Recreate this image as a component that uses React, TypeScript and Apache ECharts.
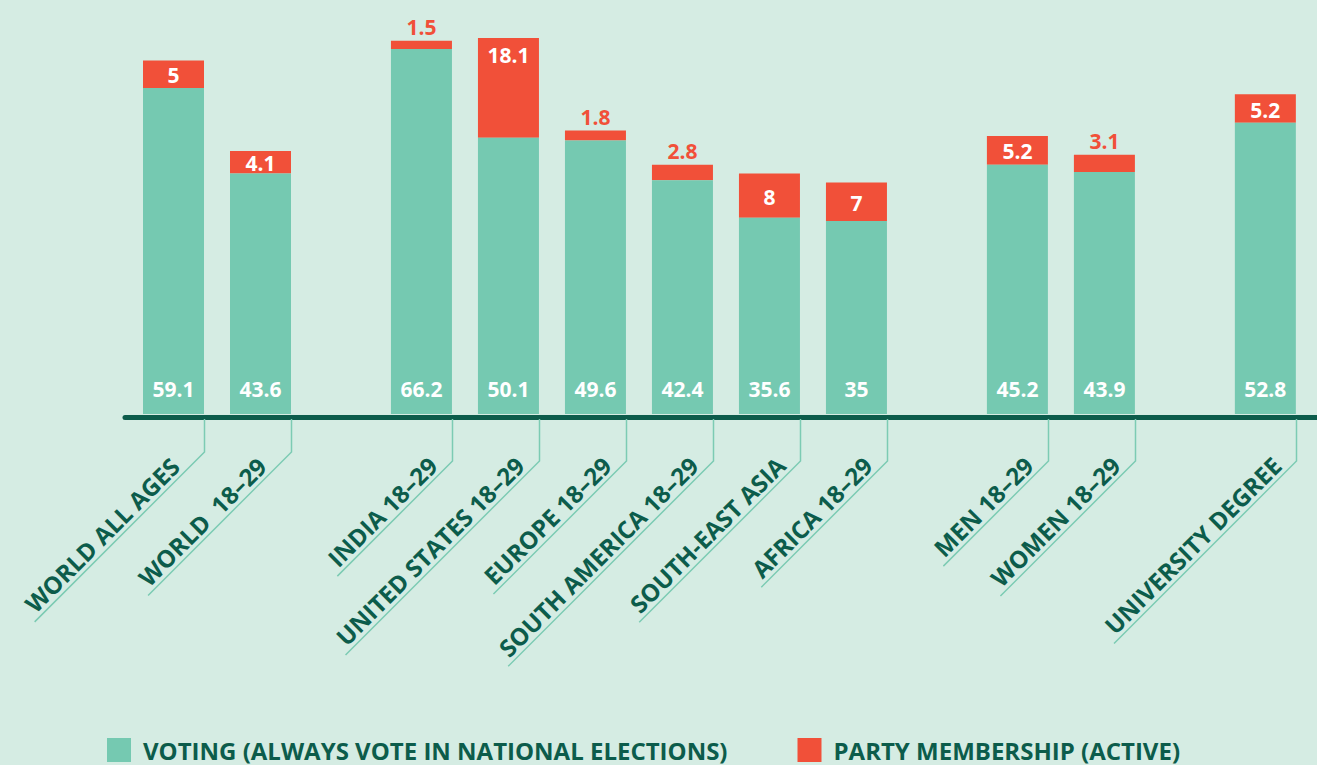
import React, { useEffect, useRef } from "react";
import * as echarts from "echarts";

const categories = [
  "WORLD ALL AGES",
  "WORLD\u00a0 18–29",
  "INDIA 18–29",
  "UNITED STATES 18–29",
  "EUROPE 18–29",
  "SOUTH AMERICA 18–29",
  "SOUTH-EAST ASIA",
  "AFRICA 18–29",
  "MEN 18–29",
  "WOMEN 18–29",
  "UNIVERSITY DEGREE",
];
// group index of each category (gaps are drawn between groups)
const groups = [0, 0, 1, 1, 1, 1, 1, 1, 2, 2, 3];
const voting = [59.1, 43.6, 66.2, 50.1, 49.6, 42.4, 35.6, 35, 45.2, 43.9, 52.8];
const party = [5, 4.1, 1.5, 18.1, 1.8, 2.8, 8, 7, 5.2, 3.1, 5.2];

const SERIES_VOTING = "VOTING (ALWAYS VOTE IN NATIONAL ELECTIONS)";
const SERIES_PARTY = "PARTY MEMBERSHIP (ACTIVE)";

const BG = "#d5ece3";
const GREEN = "#75c9b1";
const RED = "#f15039";
const DARK = "#0c5c4b";
const LEADER = "#7ccbb3";
const FONT = "Open Sans";
const GROUP_GAP = 0.85;
const BAR_W = 61;
// y of the leader line's bend, and label inset along the diagonal, per group
const BEND_Y = [452, 461, 461, 461];
const LABEL_INSET = [28, 14, 14, 14];

const xPos = categories.map((_, i) => i + groups[i] * GROUP_GAP);

let measureCtx: CanvasRenderingContext2D | null = null;
function measure(text: string, font: string) {
  if (!measureCtx) measureCtx = document.createElement("canvas").getContext("2d");
  measureCtx!.font = font;
  return measureCtx!.measureText(text).width;
}

export default function App() {
  const ref = useRef<HTMLDivElement>(null);
  useEffect(() => {
    const chart = echarts.init(ref.current!, undefined, { renderer: "svg" });
    const labelFont = `bold 24px "${FONT}"`;
    const valueFont = `bold 21px "${FONT}"`;
    const S = Math.SQRT1_2;
    chart.setOption({
      animation: false,
      backgroundColor: BG,
      textStyle: { fontFamily: FONT },
      grid: { left: 125, right: 0, top: 28, bottom: 351, containLabel: false },
      xAxis: {
        type: "value",
        min: -0.5575,
        max: 13.1437,
        offset: 3,
        axisLine: { show: true, onZero: false, lineStyle: { color: DARK, width: 5 } },
        axisTick: { show: false },
        axisLabel: { show: false },
        splitLine: { show: false },
      },
      yAxis: { type: "value", min: 0, max: 70, show: false, splitLine: { show: false } },
      legend: {
        left: 107,
        top: 738,
        padding: 0,
        itemWidth: 24,
        itemHeight: 24,
        itemGap: 70,
        icon: "rect",
        selectedMode: false,
        data: [SERIES_VOTING, SERIES_PARTY],
        textStyle: {
          fontFamily: FONT,
          fontWeight: "bold",
          fontSize: 24,
          color: DARK,
          padding: [0, 0, 0, 7],
        },
      },
      series: [
        {
          name: SERIES_VOTING,
          type: "bar",
          barWidth: BAR_W,
          itemStyle: { color: GREEN },
          data: voting.map((v, i) => [xPos[i], v]),
          label: {
            show: true,
            position: "insideBottom",
            distance: 15,
            color: "#ffffff",
            fontFamily: FONT,
            fontWeight: "bold",
            fontSize: 21,
            formatter: (p: any) => String(p.value[1]),
          },
        },
        {
          name: SERIES_PARTY,
          type: "custom",
          itemStyle: { color: RED },
          encode: { x: 0, y: [1, 2] },
          data: party.map((v, i) => [xPos[i], voting[i], voting[i] + v, v]),
          renderItem: (params: any, api: any) => {
            const x = api.value(0);
            const bottom = api.coord([x, api.value(1)]);
            const top = api.coord([x, api.value(2)]);
            const v = api.value(3);
            const h = bottom[1] - top[1];
            const cx = top[0];
            let label: any;
            if (v >= 15) {
              label = { x: cx, y: top[1] + 7, fill: "#ffffff", verticalAlign: "top" };
            } else if (v >= 4) {
              label = { x: cx, y: top[1] + h / 2 + 1, fill: "#ffffff", verticalAlign: "middle" };
            } else {
              label = { x: cx, y: top[1] - 3, fill: RED, verticalAlign: "bottom" };
            }
            return {
              type: "group",
              children: [
                {
                  type: "rect",
                  shape: { x: cx - BAR_W / 2, y: top[1], width: BAR_W, height: h },
                  style: { fill: RED },
                },
                {
                  type: "text",
                  x: label.x,
                  y: label.y,
                  style: {
                    text: String(v),
                    font: valueFont,
                    fill: label.fill,
                    align: "center",
                    verticalAlign: label.verticalAlign,
                  },
                },
              ],
            };
          },
        },
        {
          type: "custom",
          name: "labels",
          silent: true,
          clip: false,
          encode: { x: 0, y: 1 },
          data: xPos.map((x) => [x, 0]),
          renderItem: (params: any, api: any) => {
            const idx = params.dataIndex;
            const p = api.coord([api.value(0), 0]);
            const xr = Math.round(p[0] + BAR_W / 2) + 0.5;
            const y0 = p[1] + 5;
            const yc = BEND_Y[groups[idx]];
            const text = categories[idx];
            const w = measure(text, labelFont);
            const d0 = LABEL_INSET[groups[idx]];
            const pad = 6;
            const off = 2;
            const L = (d0 + w + pad) * S;
            const ax = xr - d0 * S - off * S;
            const ay = yc + d0 * S - off * S;
            return {
              type: "group",
              children: [
                {
                  type: "polyline",
                  shape: { points: [[xr, y0], [xr, yc], [xr - L, yc + L]] },
                  style: { stroke: LEADER, lineWidth: 1.5, fill: "none" },
                },
                {
                  type: "text",
                  x: ax,
                  y: ay,
                  rotation: Math.PI / 4,
                  style: {
                    text,
                    font: labelFont,
                    fill: DARK,
                    align: "right",
                    verticalAlign: "bottom",
                  },
                },
              ],
            };
          },
        },
      ],
    });
    return () => chart.dispose();
  }, []);
  return (
    <div
      ref={ref}
      style={{ position: "absolute", left: 0, top: 0, width: 1317, height: 765 }}
    />
  );
}
